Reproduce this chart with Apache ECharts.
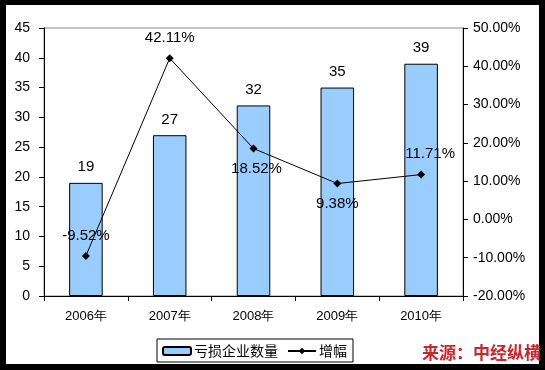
<!DOCTYPE html>
<html>
<head>
<meta charset="utf-8">
<script src="https://cdn.jsdelivr.net/npm/echarts@6/dist/echarts.min.js"></script>
<style>
html,body{margin:0;padding:0;background:#fff;}
#c{width:545px;height:370px;}
</style>
</head>
<body>
<div id="c"></div>
<script>
var categories = ['2006年', '2007年', '2008年', '2009年', '2010年'];
var lossCount = [19, 27, 32, 35, 39];
var growth = [-9.52, 42.11, 18.52, 9.38, 11.71];
var growthLabelPos = ['top', 'top', 'bottom', 'bottom', 'top'];
var growthLabelShift = [0, 0, 3, 0, 9];
var seriesNames = ['亏损企业数量', '增幅'];
var sourceText = '来源：中经纵横';

var font = 'Liberation Sans, Arial, sans-serif';
var chart = echarts.init(document.getElementById('c'), null, {renderer: 'canvas'});

var lineData = growth.map(function (v, i) {
  return {value: v, label: {position: growthLabelPos[i], offset: [growthLabelShift[i], 0]}};
});

chart.setOption({
  backgroundColor: '#fff',
  animation: false,
  grid: {left: 44, right: 82, top: 28, bottom: 74, show: true, borderColor: '#888', borderWidth: 1, containLabel: false},
  legend: {
    data: seriesNames,
    left: 157, top: 339,
    width: 193, height: 20,
    padding: [5, 6, 4, 5],
    itemWidth: 28, itemHeight: 8, itemGap: 9,
    borderColor: '#000', borderWidth: 1, borderRadius: 0,
    textStyle: {fontSize: 14, color: '#000', fontFamily: 'Noto Sans CJK SC', padding: [0, 0, 0, -2]}
  },
  xAxis: {
    type: 'category',
    data: categories,
    axisLine: {lineStyle: {color: '#000', width: 1}},
    axisTick: {show: true, alignWithLabel: false, length: 5, inside: false, lineStyle: {color: '#000'}},
    axisLabel: {fontSize: 13, color: '#000', margin: 14, fontFamily: font}
  },
  yAxis: [{
    type: 'value', min: 0, max: 45, interval: 5,
    axisLine: {show: true, lineStyle: {color: '#000'}},
    axisTick: {show: true, length: 5, lineStyle: {color: '#000'}},
    splitLine: {show: false},
    axisLabel: {fontSize: 14, color: '#000', margin: 14, fontFamily: font}
  }, {
    type: 'value', min: -20, max: 50, interval: 10,
    position: 'right',
    axisLine: {show: true, lineStyle: {color: '#000'}},
    axisTick: {show: true, length: 5, lineStyle: {color: '#000'}},
    splitLine: {show: false},
    axisLabel: {fontSize: 14, color: '#000', margin: 10, fontFamily: font,
      formatter: function (v) { return v.toFixed(2) + '%'; }}
  }],
  series: [{
    name: seriesNames[0],
    type: 'bar',
    data: lossCount,
    barWidth: '40%',
    itemStyle: {color: '#99CCFF', borderColor: '#000', borderWidth: 1},
    label: {show: true, position: 'top', distance: 8, fontSize: 15, color: '#000', fontFamily: font}
  }, {
    name: seriesNames[1],
    type: 'line',
    yAxisIndex: 1,
    data: lineData,
    symbol: 'diamond',
    symbolSize: 8,
    lineStyle: {color: '#000', width: 1},
    itemStyle: {color: '#000'},
    label: {show: true, distance: 9, fontSize: 15, color: '#000', fontFamily: font,
      formatter: function (p) { return p.value.toFixed(2) + '%'; }},
    z: 5
  }],
  graphic: [
    {type: 'rect', shape: {x: 0, y: 0, width: 545, height: 5}, style: {fill: '#000'}, z: 100},
    {type: 'rect', shape: {x: 0, y: 0, width: 6, height: 370}, style: {fill: '#000'}, z: 100},
    {type: 'rect', shape: {x: 539, y: 0, width: 6, height: 370}, style: {fill: '#000'}, z: 100},
    {type: 'rect', shape: {x: 0, y: 364, width: 545, height: 6}, style: {fill: '#000'}, z: 100},
    {type: 'text', left: 422, top: 344, z: 101,
      style: {text: sourceText, fill: '#C8262C', font: 'bold 17px "Noto Sans CJK SC"'}}
  ]
});
</script>
</body>
</html>
